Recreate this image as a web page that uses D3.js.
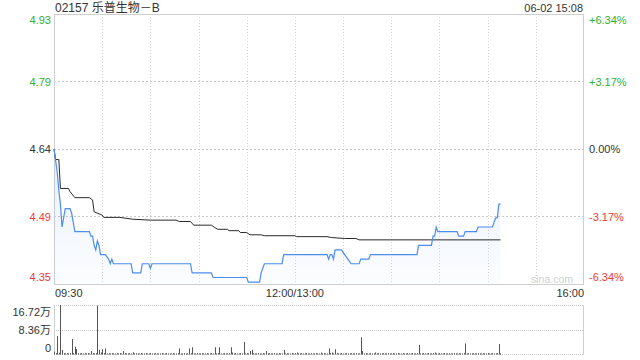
<!DOCTYPE html>
<html>
<head>
<meta charset="utf-8">
<script src="https://cdn.jsdelivr.net/npm/d3@7"></script>
<style>
html,body{margin:0;padding:0;background:#fff;}
svg{display:block;font-family:"Liberation Sans",Arial,"Noto Sans CJK SC",sans-serif;}
</style>
</head>
<body>
<svg id="chart" width="640" height="360"></svg>
<script>
// ---- data ----
const title = "02157 乐普生物－B";
const stamp = "06-02 15:08";
const prevClose = 4.64;
const pctLevels = [6.34, 3.17, 0, -3.17, -6.34];
const priceTickLabels = ["4.93", "4.79", "4.64", "4.49", "4.35"];
const pctTickLabels = ["+6.34%", "+3.17%", "0.00%", "-3.17%", "-6.34%"];
const timeLabels = ["09:30", "12:00/13:00", "16:00"];
const timeLabelMinutes = [0, 150, 330];
const volTickLabels = ["16.72万", "8.36万", "0"];
const volTickValues = [16.72, 8.36, 0];

// price line: minute index (0 = 09:30, 150 = 12:00/13:00, 330 = 16:00) and price
const priceMinutes = [0,2,3,4,5,7,10,11,13,22,23,24,25,26,27,28,29,32,34,35,36,37,48,49,54,55,59,60,61,85,86,98,99,120,121,128,129,130,131,142,143,170,171,172,173,174,175,179,181,183,185,190,191,196,197,226,227,235,236,237,238,239,251,252,255,256,263,264,273,274,275,276,277,278];
const priceValues  = [4.64,4.59,4.55,4.52,4.47,4.51,4.51,4.50,4.46,4.46,4.45,4.45,4.43,4.42,4.44,4.43,4.41,4.41,4.40,4.39,4.40,4.39,4.39,4.37,4.37,4.39,4.39,4.38,4.39,4.39,4.37,4.37,4.36,4.36,4.35,4.35,4.37,4.38,4.39,4.39,4.41,4.41,4.40,4.41,4.41,4.40,4.42,4.42,4.41,4.40,4.39,4.39,4.40,4.40,4.41,4.41,4.43,4.43,4.45,4.45,4.47,4.46,4.46,4.45,4.45,4.46,4.46,4.47,4.47,4.48,4.49,4.49,4.52,4.52];

// average price line
const avgMinutes = [0,1,3,4,9,10,13,22,24,25,30,31,41,49,60,76,78,85,87,98,100,102,108,109,115,116,120,122,129,131,150,151,170,173,181,188,190,278];
const avgValues  = [4.64,4.617,4.617,4.554,4.554,4.547,4.534,4.534,4.529,4.503,4.496,4.491,4.491,4.487,4.485,4.485,4.482,4.482,4.474,4.474,4.469,4.465,4.465,4.462,4.462,4.458,4.458,4.453,4.453,4.451,4.451,4.449,4.449,4.447,4.445,4.445,4.442,4.442];

// volume per minute (万股), minute 0..278
const volumes = [
0.8,0.3,6.1,0.4,16.72,1.4,0.3,0.2,0.3,0.2,
0.3,5.1,0.3,2.5,1.7,0.3,0.2,0.3,0.2,0.3,
0.2,0.3,0.2,1.0,0.3,0.2,0.3,16.5,1.4,0.5,
1.6,0.3,1.9,0.2,0.3,0.2,0.3,0.2,0.2,0.3,
0.2,0.3,0.2,1.0,0.3,0.2,0.2,0.3,0.2,0.6,
0.2,0.3,0.2,0.2,0.3,0.2,0.2,0.3,0.2,0.2,
0.3,0.2,0.2,0.3,0.2,0.2,0.2,0.3,0.2,0.2,
0.3,0.2,0.2,0.2,0.3,0.2,0.2,0.3,1.9,0.2,
0.2,0.3,0.2,0.2,1.9,0.3,2.3,0.2,0.2,0.3,
0.2,0.2,0.3,0.2,0.2,0.3,0.2,0.2,0.3,0.2,
2.3,0.2,0.3,2.3,0.2,0.2,0.3,0.2,0.2,0.3,
2.3,0.5,0.2,0.3,0.2,0.2,0.3,0.2,4.1,0.2,
0.3,0.2,1.0,1.4,0.3,0.2,0.2,0.3,0.2,0.2,
0.3,0.2,1.0,0.2,0.3,0.2,0.2,0.3,0.2,0.2,
0.3,0.2,0.2,1.4,0.2,0.3,0.2,0.2,0.3,0.2,
0.3,0.5,0.2,0.2,0.3,0.2,0.2,0.3,0.2,0.2,
0.3,0.2,0.2,0.3,0.2,0.2,0.5,0.2,0.3,0.2,
0.2,1.9,0.3,0.5,0.2,1.6,0.3,0.2,0.2,0.3,
0.2,0.2,0.3,0.2,0.2,0.3,0.2,0.2,0.3,0.2,
0.2,5.7,1.0,0.2,0.3,0.2,0.2,0.3,0.2,0.2,
0.5,0.2,0.3,0.2,0.2,0.3,0.2,0.2,0.3,0.2,
0.2,0.3,0.2,0.2,0.3,0.2,0.2,0.3,0.2,0.2,
0.3,0.2,0.2,0.3,0.2,0.2,0.3,3.1,0.2,0.2,
0.3,0.2,0.2,0.3,0.2,0.2,0.3,0.5,0.2,0.2,
0.3,0.2,0.2,0.3,0.2,0.2,0.3,0.2,0.2,0.3,
0.2,0.2,0.3,0.2,0.2,0.3,3.6,0.2,0.3,0.2,
0.2,0.3,0.2,0.2,0.3,0.2,0.2,0.3,0.2,0.2,
0.3,0.2,0.2,0.3,0.2,0.2,0.3,3.4,0.2
];

// ---- drawing ----
const svg = d3.select("#chart");
const L = 54, R = 584, T = 14, B = 284;
const VT = 305, VB = 354;
const green = "#2eb02e", red = "#f03a3a", dark = "#333";

const x = d3.scaleLinear().domain([0, 330]).range([L, R]);
const y = d3.scaleLinear()
  .domain([prevClose * (1 - 0.0634), prevClose * (1 + 0.0634)])
  .range([B, T]);
const yv = d3.scaleLinear().domain([0, 16.72]).range([VB, VT]);

const defs = svg.append("defs");
const grad = defs.append("linearGradient").attr("id", "areaGrad")
  .attr("x1", 0).attr("y1", 0).attr("x2", 0).attr("y2", 1);
grad.append("stop").attr("offset", "0%").attr("stop-color", "#4e8fe8").attr("stop-opacity", 0.13);
grad.append("stop").attr("offset", "100%").attr("stop-color", "#4e8fe8").attr("stop-opacity", 0.02);

// vertical gridlines in price panel
const gridMins = d3.range(30, 330, 30);
svg.append("g").selectAll("line").data(gridMins).join("line")
  .attr("x1", d => Math.round(x(d)) + 0.5).attr("x2", d => Math.round(x(d)) + 0.5)
  .attr("y1", T).attr("y2", B)
  .attr("stroke", "#d4d4d4").attr("stroke-dasharray", "1,2");

// horizontal gridlines (inner levels)
const innerLevels = pctLevels.slice(1, -1);
svg.append("g").selectAll("line").data(innerLevels).join("line")
  .attr("x1", L).attr("x2", R)
  .attr("y1", d => Math.round(y(prevClose * (1 + d / 100))) + 0.5)
  .attr("y2", d => Math.round(y(prevClose * (1 + d / 100))) + 0.5)
  .attr("stroke", "#c8c8c8").attr("stroke-dasharray", "2,2");

// border of price panel
svg.append("rect").attr("x", L + 0.5).attr("y", T + 0.5)
  .attr("width", R - L - 1).attr("height", B - T)
  .attr("fill", "none").attr("stroke", "#cfcfcf");

// area + price line
const pts = priceMinutes.map((m, i) => [m, priceValues[i]]);
const area = d3.area().x(d => x(d[0])).y0(B).y1(d => y(d[1]));
svg.append("path").datum(pts).attr("d", area).attr("fill", "url(#areaGrad)");

const line = d3.line().x(d => x(d[0])).y(d => y(d[1]));
const avgPts = avgMinutes.map((m, i) => [m, avgValues[i]]);
svg.append("path").datum(avgPts).attr("d", line)
  .attr("fill", "none").attr("stroke", "#2a2a2a").attr("stroke-width", 1);
svg.append("path").datum(pts).attr("d", line)
  .attr("fill", "none").attr("stroke", "#4b8df0").attr("stroke-width", 1.2);

// watermark
svg.append("text").attr("x", 573).attr("y", 283)
  .attr("text-anchor", "end").attr("font-size", 10.5).attr("fill", "#d0d0d0")
  .text("sina.com");

// left/right price labels
const colorFor = p => p > 0 ? green : (p < 0 ? red : dark);
pctLevels.forEach((p, i) => {
  const yy = y(prevClose * (1 + p / 100));
  let ty = yy + 4;
  if (i === 0) ty = yy + 10;
  if (i === pctLevels.length - 1) ty = yy - 3;
  svg.append("text").attr("x", 51).attr("y", ty).attr("text-anchor", "end")
    .attr("font-size", 11).attr("fill", colorFor(p)).text(priceTickLabels[i]);
  svg.append("text").attr("x", 589).attr("y", ty).attr("text-anchor", "start")
    .attr("font-size", 11).attr("fill", colorFor(p)).text(pctTickLabels[i]);
});

// title and timestamp
svg.append("text").attr("x", 55).attr("y", 12).attr("font-size", 12).attr("fill", dark).text(title);
svg.append("text").attr("x", 583).attr("y", 12).attr("text-anchor", "end")
  .attr("font-size", 11).attr("fill", dark).text(stamp);

// time labels
timeLabels.forEach((t, i) => {
  const m = timeLabelMinutes[i];
  const anchor = i === 0 ? "start" : (i === timeLabels.length - 1 ? "end" : "middle");
  svg.append("text").attr("x", x(m) + (i === 0 ? 1 : 0)).attr("y", 297)
    .attr("text-anchor", anchor).attr("font-size", 11).attr("fill", dark).text(t);
});

// volume panel gridlines
svg.append("g").selectAll("line").data(volTickValues).join("line")
  .attr("x1", L).attr("x2", R)
  .attr("y1", d => Math.round(yv(d)) + 0.5).attr("y2", d => Math.round(yv(d)) + 0.5)
  .attr("stroke", "#c8c8c8").attr("stroke-dasharray", "1,1");
svg.append("line").attr("x1", L + 0.5).attr("x2", L + 0.5).attr("y1", VT).attr("y2", VB + 1)
  .attr("stroke", "#cfcfcf");
svg.append("line").attr("x1", R - 0.5).attr("x2", R - 0.5).attr("y1", VT).attr("y2", VB + 1)
  .attr("stroke", "#cfcfcf");

// volume bars
svg.append("g").selectAll("rect").data(volumes).join("rect")
  .attr("x", (d, i) => Math.round(x(i)) + 0.5 - 0.5)
  .attr("width", 1)
  .attr("y", d => yv(d))
  .attr("height", d => VB + 0.5 - yv(d))
  .attr("fill", "#555");

// volume labels
volTickValues.forEach((v, i) => {
  const yy = yv(v);
  let ty = yy + 4;
  if (i === 0) ty = yy + 11;
  if (i === volTickValues.length - 1) ty = yy - 2;
  svg.append("text").attr("x", 51).attr("y", ty).attr("text-anchor", "end")
    .attr("font-size", 11).attr("fill", dark).text(volTickLabels[i]);
});
</script>
</body>
</html>
